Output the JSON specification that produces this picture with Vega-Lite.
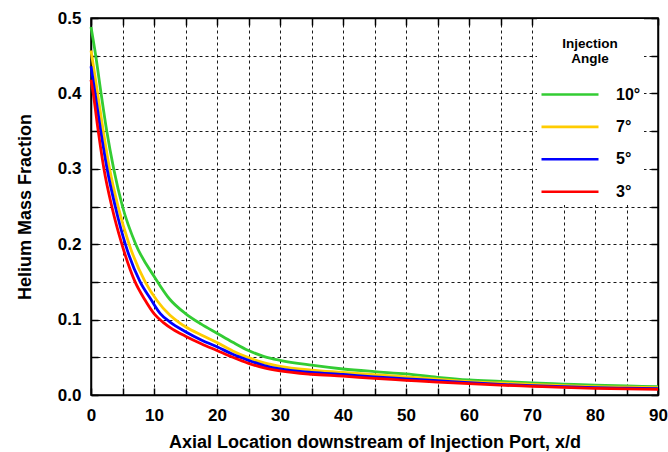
{
  "$schema": "https://vega.github.io/schema/vega-lite/v6.json",
  "width": 567,
  "height": 377,
  "autosize": {"type": "none"},
  "padding": {"left": 91, "top": 18, "right": 10, "bottom": 57},
  "background": "white",
  "config": {
    "view": {"stroke": "black", "strokeWidth": 1.5},
    "font": "Liberation Sans",
    "axis": {
      "labelFont": "Liberation Sans",
      "labelFontWeight": "bold",
      "labelFontSize": 17,
      "labelColor": "black",
      "labelFlush": false,
      "titleFont": "Liberation Sans",
      "titleFontWeight": "bold",
      "titleFontSize": 18,
      "titleColor": "black",
      "domainColor": "black",
      "domainWidth": 1.5,
      "tickColor": "black",
      "tickWidth": 1.5,
      "tickSize": -7,
      "gridColor": "black",
      "gridDash": [3, 3],
      "gridWidth": 1,
      "gridOpacity": 0.9
    },
    "legend": {
      "labelFont": "Liberation Sans",
      "titleFont": "Liberation Sans"
    }
  },
  "data": {
    "values": [
      {"x": 0, "y": 0.488, "angle": "10°"},
      {"x": 0.75, "y": 0.45, "angle": "10°"},
      {"x": 1.6, "y": 0.40, "angle": "10°"},
      {"x": 2.5, "y": 0.35, "angle": "10°"},
      {"x": 3.6, "y": 0.30, "angle": "10°"},
      {"x": 5.0, "y": 0.25, "angle": "10°"},
      {"x": 7.1, "y": 0.20, "angle": "10°"},
      {"x": 10.2, "y": 0.155, "angle": "10°"},
      {"x": 12.5, "y": 0.127, "angle": "10°"},
      {"x": 15, "y": 0.108, "angle": "10°"},
      {"x": 17.5, "y": 0.094, "angle": "10°"},
      {"x": 20, "y": 0.082, "angle": "10°"},
      {"x": 22.5, "y": 0.07, "angle": "10°"},
      {"x": 25, "y": 0.059, "angle": "10°"},
      {"x": 27.5, "y": 0.051, "angle": "10°"},
      {"x": 30, "y": 0.046, "angle": "10°"},
      {"x": 35, "y": 0.0395, "angle": "10°"},
      {"x": 40, "y": 0.0345, "angle": "10°"},
      {"x": 45, "y": 0.031, "angle": "10°"},
      {"x": 50, "y": 0.028, "angle": "10°"},
      {"x": 55, "y": 0.0235, "angle": "10°"},
      {"x": 60, "y": 0.02, "angle": "10°"},
      {"x": 65, "y": 0.018, "angle": "10°"},
      {"x": 70, "y": 0.016, "angle": "10°"},
      {"x": 75, "y": 0.0145, "angle": "10°"},
      {"x": 80, "y": 0.013, "angle": "10°"},
      {"x": 85, "y": 0.012, "angle": "10°"},
      {"x": 90, "y": 0.011, "angle": "10°"},

      {"x": 0, "y": 0.457, "angle": "7°"},
      {"x": 0.5, "y": 0.43, "angle": "7°"},
      {"x": 1.05, "y": 0.40, "angle": "7°"},
      {"x": 1.95, "y": 0.35, "angle": "7°"},
      {"x": 2.95, "y": 0.30, "angle": "7°"},
      {"x": 4.3, "y": 0.25, "angle": "7°"},
      {"x": 6.05, "y": 0.20, "angle": "7°"},
      {"x": 8.6, "y": 0.15, "angle": "7°"},
      {"x": 10.5, "y": 0.125, "angle": "7°"},
      {"x": 12.5, "y": 0.106, "angle": "7°"},
      {"x": 14, "y": 0.096, "angle": "7°"},
      {"x": 15, "y": 0.0905, "angle": "7°"},
      {"x": 17.5, "y": 0.0795, "angle": "7°"},
      {"x": 20, "y": 0.0695, "angle": "7°"},
      {"x": 22.5, "y": 0.0585, "angle": "7°"},
      {"x": 25, "y": 0.0495, "angle": "7°"},
      {"x": 27.5, "y": 0.0425, "angle": "7°"},
      {"x": 30, "y": 0.038, "angle": "7°"},
      {"x": 35, "y": 0.033, "angle": "7°"},
      {"x": 40, "y": 0.03, "angle": "7°"},
      {"x": 45, "y": 0.027, "angle": "7°"},
      {"x": 50, "y": 0.024, "angle": "7°"},
      {"x": 55, "y": 0.021, "angle": "7°"},
      {"x": 60, "y": 0.0177, "angle": "7°"},
      {"x": 65, "y": 0.016, "angle": "7°"},
      {"x": 70, "y": 0.0142, "angle": "7°"},
      {"x": 75, "y": 0.0125, "angle": "7°"},
      {"x": 80, "y": 0.011, "angle": "7°"},
      {"x": 85, "y": 0.0103, "angle": "7°"},
      {"x": 90, "y": 0.0097, "angle": "7°"},

      {"x": 0, "y": 0.436, "angle": "5°"},
      {"x": 0.65, "y": 0.40, "angle": "5°"},
      {"x": 1.55, "y": 0.35, "angle": "5°"},
      {"x": 2.55, "y": 0.30, "angle": "5°"},
      {"x": 3.85, "y": 0.25, "angle": "5°"},
      {"x": 5.45, "y": 0.20, "angle": "5°"},
      {"x": 7.8, "y": 0.15, "angle": "5°"},
      {"x": 9.5, "y": 0.127, "angle": "5°"},
      {"x": 11, "y": 0.108, "angle": "5°"},
      {"x": 12.5, "y": 0.097, "angle": "5°"},
      {"x": 15, "y": 0.084, "angle": "5°"},
      {"x": 17.5, "y": 0.073, "angle": "5°"},
      {"x": 20, "y": 0.064, "angle": "5°"},
      {"x": 22.5, "y": 0.054, "angle": "5°"},
      {"x": 25, "y": 0.046, "angle": "5°"},
      {"x": 27.5, "y": 0.039, "angle": "5°"},
      {"x": 30, "y": 0.0345, "angle": "5°"},
      {"x": 35, "y": 0.03, "angle": "5°"},
      {"x": 40, "y": 0.0272, "angle": "5°"},
      {"x": 45, "y": 0.024, "angle": "5°"},
      {"x": 50, "y": 0.0215, "angle": "5°"},
      {"x": 55, "y": 0.019, "angle": "5°"},
      {"x": 60, "y": 0.0163, "angle": "5°"},
      {"x": 65, "y": 0.014, "angle": "5°"},
      {"x": 70, "y": 0.0124, "angle": "5°"},
      {"x": 75, "y": 0.011, "angle": "5°"},
      {"x": 80, "y": 0.0097, "angle": "5°"},
      {"x": 85, "y": 0.009, "angle": "5°"},
      {"x": 90, "y": 0.0084, "angle": "5°"},

      {"x": 0, "y": 0.418, "angle": "3°"},
      {"x": 0.35, "y": 0.40, "angle": "3°"},
      {"x": 1.15, "y": 0.35, "angle": "3°"},
      {"x": 2.05, "y": 0.30, "angle": "3°"},
      {"x": 3.3, "y": 0.25, "angle": "3°"},
      {"x": 4.9, "y": 0.20, "angle": "3°"},
      {"x": 7.0, "y": 0.15, "angle": "3°"},
      {"x": 8.5, "y": 0.127, "angle": "3°"},
      {"x": 10, "y": 0.108, "angle": "3°"},
      {"x": 11.5, "y": 0.096, "angle": "3°"},
      {"x": 13, "y": 0.087, "angle": "3°"},
      {"x": 15, "y": 0.078, "angle": "3°"},
      {"x": 17.5, "y": 0.068, "angle": "3°"},
      {"x": 20, "y": 0.059, "angle": "3°"},
      {"x": 22.5, "y": 0.05, "angle": "3°"},
      {"x": 25, "y": 0.042, "angle": "3°"},
      {"x": 27.5, "y": 0.036, "angle": "3°"},
      {"x": 30, "y": 0.032, "angle": "3°"},
      {"x": 35, "y": 0.0275, "angle": "3°"},
      {"x": 40, "y": 0.025, "angle": "3°"},
      {"x": 45, "y": 0.022, "angle": "3°"},
      {"x": 50, "y": 0.0195, "angle": "3°"},
      {"x": 55, "y": 0.017, "angle": "3°"},
      {"x": 60, "y": 0.015, "angle": "3°"},
      {"x": 65, "y": 0.013, "angle": "3°"},
      {"x": 70, "y": 0.0115, "angle": "3°"},
      {"x": 75, "y": 0.01, "angle": "3°"},
      {"x": 80, "y": 0.0089, "angle": "3°"},
      {"x": 85, "y": 0.008, "angle": "3°"},
      {"x": 90, "y": 0.0075, "angle": "3°"}
    ]
  },
  "layer": [
    {
      "mark": {"type": "line", "strokeWidth": 2.8, "interpolate": "monotone"},
      "encoding": {
        "x": {
          "field": "x", "type": "quantitative",
          "scale": {"domain": [0, 90], "nice": false},
          "axis": {
            "orient": "bottom",
            "title": "Axial Location downstream of Injection Port, x/d",
            "values": [0,5,10,15,20,25,30,35,40,45,50,55,60,65,70,75,80,85,90],
            "labelExpr": "datum.value % 10 == 0 ? datum.label : ''",
            "grid": true,
            "labelPadding": 19,
            "titlePadding": 10
          }
        },
        "y": {
          "field": "y", "type": "quantitative",
          "scale": {"domain": [0, 0.5], "nice": false},
          "axis": {
            "orient": "left",
            "title": "Helium Mass Fraction",
            "values": [0,0.05,0.1,0.15,0.2,0.25,0.3,0.35,0.4,0.45,0.5],
            "labelExpr": "abs(datum.value*10 - round(datum.value*10)) < 0.001 ? format(datum.value, '.1f') : ''",
            "grid": true,
            "labelPadding": 17,
            "titlePadding": 23
          }
        },
        "color": {
          "field": "angle", "type": "nominal",
          "scale": {"domain": ["10°", "7°", "5°", "3°"], "range": ["#33cc33", "#ffcc00", "#0000ff", "#ff0000"]},
          "legend": {
            "orient": "none",
            "legendX": 446,
            "legendY": 1,
            "title": ["", "Injection", "Angle"],
            "titleFontSize": 13.5,
            "titleFontWeight": "bold",
            "titleColor": "black",
            "titleLineHeight": 15,
            "titleAnchor": "middle",
            "titleAlign": "center",
            "titlePadding": 19,
            "padding": 3,
            "fillColor": "white",
            "symbolType": "stroke",
            "symbolSize": 3249,
            "symbolStrokeWidth": 2.6,
            "clipHeight": 20,
            "rowPadding": 12.4,
            "labelOffset": 16,
            "labelFontSize": 16,
            "labelFontWeight": "bold",
            "labelColor": "black"
          }
        }
      }
    },
    {
      "mark": {"type": "point", "opacity": 0},
      "encoding": {
        "x": {
          "field": "x", "type": "quantitative",
          "axis": {
            "orient": "top",
            "title": null,
            "labels": false,
            "grid": false,
            "values": [0,5,10,15,20,25,30,35,40,45,50,55,60,65,70,75,80,85,90]
          }
        },
        "y": {
          "field": "y", "type": "quantitative",
          "axis": {
            "orient": "right",
            "title": null,
            "labels": false,
            "grid": false,
            "values": [0,0.05,0.1,0.15,0.2,0.25,0.3,0.35,0.4,0.45,0.5]
          }
        }
      }
    }
  ],
  "resolve": {"axis": {"x": "independent", "y": "independent"}}
}
